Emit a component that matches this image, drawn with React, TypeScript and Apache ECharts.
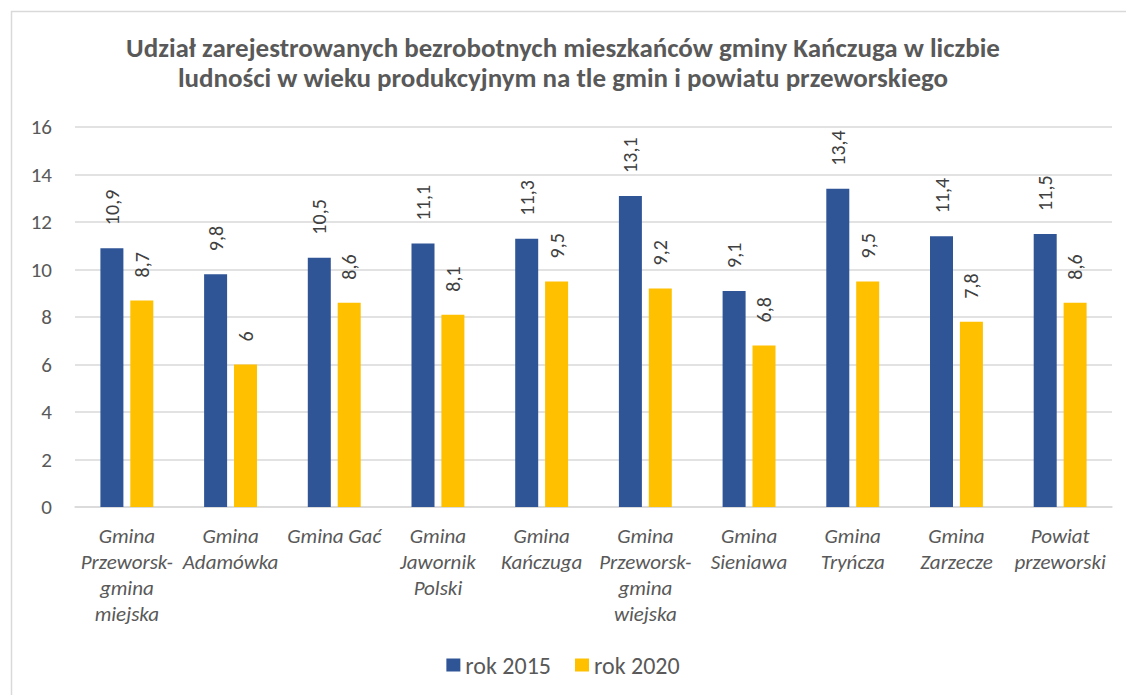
import React, { useEffect, useRef } from "react";
import * as echarts from "echarts";

const categories = [
  "Gmina\nPrzeworsk-\ngmina\nmiejska",
  "Gmina\nAdamówka",
  "Gmina Gać",
  "Gmina\nJawornik\nPolski",
  "Gmina\nKańczuga",
  "Gmina\nPrzeworsk-\ngmina\nwiejska",
  "Gmina\nSieniawa",
  "Gmina\nTryńcza",
  "Gmina\nZarzecze",
  "Powiat\nprzeworski",
];
const values2015 = [10.9, 9.8, 10.5, 11.1, 11.3, 13.1, 9.1, 13.4, 11.4, 11.5];
const values2020 = [8.7, 6, 8.6, 8.1, 9.5, 9.2, 6.8, 9.5, 7.8, 8.6];
const seriesNames = ["rok 2015", "rok 2020"];
const titleText =
  "Udział zarejestrowanych bezrobotnych mieszkańców gminy Kańczuga w liczbie\nludności w wieku produkcyjnym na tle gmin i powiatu przeworskiego";

const FONT = "Carlito, Lato, 'Open Sans', sans-serif";

export default function App() {
  const ref = useRef<HTMLDivElement>(null);
  useEffect(() => {
    document.body.style.margin = "0";
    if (!ref.current) return;
    const chart = echarts.init(ref.current, null, { renderer: "svg" });
    const label = {
      show: true,
      position: "top",
      rotate: 90,
      align: "left",
      verticalAlign: "middle",
      distance: 23,
      fontSize: 20,
      color: "#404040",
      fontFamily: FONT,
      formatter: (p: any) => String(p.value).replace(".", ","),
    };
    chart.setOption({
      animation: false,
      textStyle: { fontFamily: FONT },
      title: {
        text: titleText,
        left: "center",
        top: 27,
        textStyle: {
          fontSize: 27,
          fontWeight: "bold",
          color: "#595959",
          lineHeight: 30,
          fontFamily: FONT,
        },
      },
      graphic: [
        {
          type: "rect",
          shape: { x: 11.5, y: 11.5, width: 1130, height: 700 },
          style: { fill: "none", stroke: "#D9D9D9", lineWidth: 1.5 },
          silent: true,
        },
      ],
      legend: {
        top: 648,
        left: "center",
        itemWidth: 14,
        itemHeight: 13,
        itemGap: 24,
        icon: "rect",
        textStyle: { fontSize: 24, color: "#595959", fontFamily: FONT },
        data: seriesNames,
      },
      grid: { left: 75, right: 14, top: 127, bottom: 188 },
      xAxis: {
        type: "category",
        data: categories,
        axisLine: { lineStyle: { color: "#D9D9D9", width: 1.5 } },
        axisTick: { show: false },
        axisLabel: {
          interval: 0,
          fontSize: 21,
          fontStyle: "italic",
          color: "#595959",
          lineHeight: 26,
          margin: 16,
          fontFamily: FONT,
        },
      },
      yAxis: {
        type: "value",
        min: 0,
        max: 16,
        interval: 2,
        axisLine: { show: false },
        axisTick: { show: false },
        splitLine: { lineStyle: { color: "#D9D9D9", width: 1.5 } },
        axisLabel: {
          fontSize: 21,
          color: "#595959",
          margin: 23,
          fontFamily: FONT,
        },
      },
      series: [
        {
          name: seriesNames[0],
          type: "bar",
          data: values2015,
          barWidth: 23,
          barGap: "30%",
          itemStyle: { color: "#2F5597" },
          label,
        },
        {
          name: seriesNames[1],
          type: "bar",
          data: values2020,
          barWidth: 23,
          barGap: "30%",
          itemStyle: { color: "#FFC000" },
          label,
        },
      ],
    });
    return () => chart.dispose();
  }, []);
  return <div ref={ref} style={{ width: 1126, height: 695 }} />;
}
